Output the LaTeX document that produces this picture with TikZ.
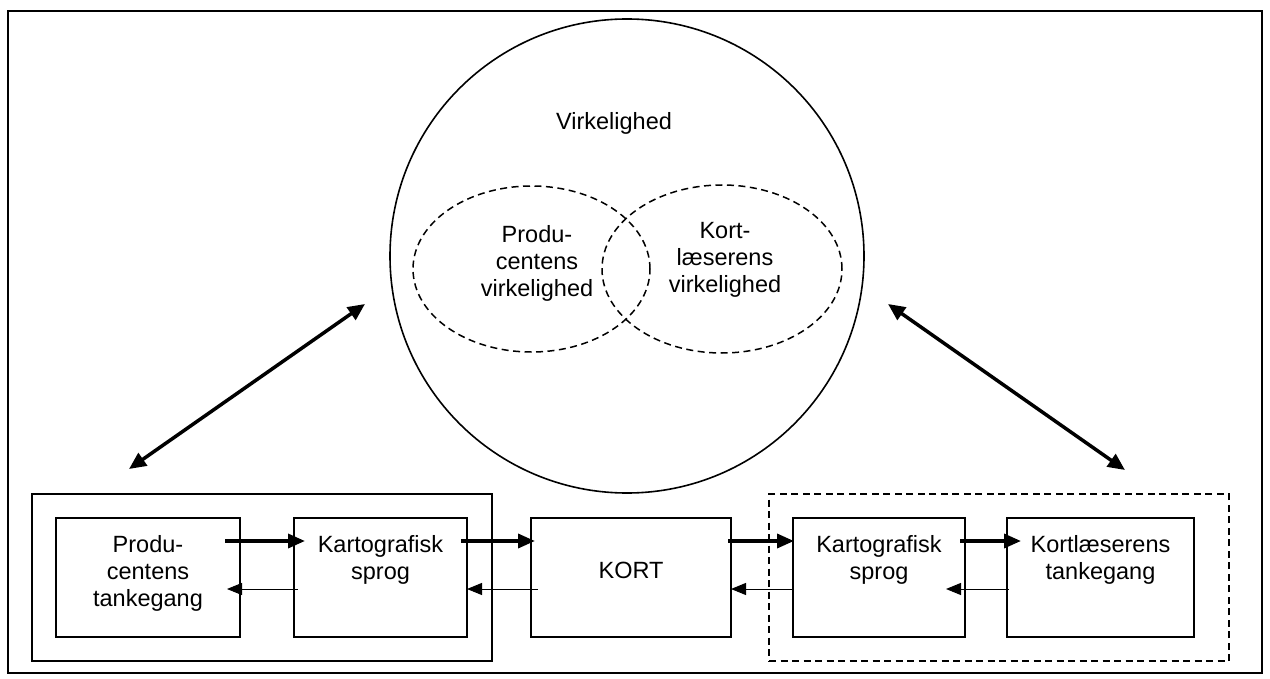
\documentclass[tikz,border=0pt]{standalone}
\usepackage{fontspec}
\setmainfont{Liberation Sans}
\usetikzlibrary{arrows.meta,shapes.geometric}
\begin{document}
\begin{tikzpicture}[x=1pt,y=-1pt,
  lbl/.style={font=\fontsize{23.5}{27.3}\selectfont, align=center, inner sep=0pt, anchor=north},
  stagebox/.style={draw, rectangle, line width=1.8pt, inner sep=0pt, outer sep=0pt},
  groupbox/.style={draw, rectangle, line width=1.6pt, inner sep=0pt, outer sep=0pt, fill=none},
  dashline/.style={line width=1.5pt, dash pattern=on 7pt off 4.5pt},
  thickarr/.style={line width=3.5pt, -{Triangle[length=17pt,width=14pt]}},
  thinarr/.style={line width=1pt, -{Triangle[length=15pt,width=12pt]}},
  bothway/.style={line width=3.5pt, {Triangle[length=17pt,width=15pt]}-{Triangle[length=17pt,width=15pt]}}]
\useasboundingbox (0,0) rectangle (1270,679);

% outer frame
\draw[line width=1.5pt] (8,11) rectangle (1262,673);

% reality circle with the two overlapping realities
\node[circle, draw, line width=1.6pt, inner sep=0pt, outer sep=0pt, minimum size=474pt] (world) at (627,256) {};
\node[lbl] (tworld) at (614,112) {Virkelighed};
\node[ellipse, draw, dashline, inner sep=0pt, outer sep=0pt, minimum width=237pt, minimum height=166pt] (ellP) at (531.5,269) {};
\node[ellipse, draw, dashline, inner sep=0pt, outer sep=0pt, minimum width=240pt, minimum height=168pt] (ellK) at (722,269) {};
\node[lbl] (tellP) at (537,225) {Produ-\\centens\\virkelighed};
\node[lbl] (tellK) at (725,222) {Kort-\\læserens\\virkelighed};

% groups
\node[groupbox, minimum width=460pt, minimum height=167pt] (prodgrp) at (262,577.5) {};
\node[groupbox, dashline, minimum width=460pt, minimum height=167pt] (readgrp) at (999,577.5) {};

% stages
\node[stagebox, minimum width=184pt, minimum height=119pt] (b1) at (148,577.5) {};
\node[stagebox, minimum width=173pt, minimum height=119pt] (b2) at (380.5,577.5) {};
\node[stagebox, minimum width=200pt, minimum height=119pt] (kort) at (631,577.5) {};
\node[stagebox, minimum width=172pt, minimum height=119pt] (b4) at (879,577.5) {};
\node[stagebox, minimum width=187pt, minimum height=119pt] (b5) at (1100.5,577.5) {};

\node[lbl] (t1) at (148,535) {Produ-\\centens\\tankegang};
\node[lbl] (t2) at (380.5,535) {Kartografisk\\sprog};
\node[lbl] (tkort) at (631,562) {KORT};
\node[lbl] (t4) at (879,535) {Kartografisk\\sprog};
\node[lbl] (t5) at (1100.5,535) {Kortlæserens\\tankegang};

% forward flow
\draw[thickarr] ([shift={(-15,-36.5)}]b1.east) -- ([shift={(11,-36.5)}]b2.west);
\draw[thickarr] ([shift={(-6,-36.5)}]b2.east) -- ([shift={(4,-36.5)}]kort.west);
\draw[thickarr] ([shift={(-3,-36.5)}]kort.east) -- ([shift={(1,-36.5)}]b4.west);
\draw[thickarr] ([shift={(-5,-36.5)}]b4.east) -- ([shift={(14,-36.5)}]b5.west);

% feedback flow
\draw[thinarr] ([shift={(4,11.5)}]b2.west) -- ([shift={(-13,11.5)}]b1.east);
\draw[thinarr] ([shift={(7,11.5)}]kort.west) -- ([shift={(0,11.5)}]b2.east);
\draw[thinarr] ([shift={(0,11.5)}]b4.west) -- ([shift={(0,11.5)}]kort.east);
\draw[thinarr] ([shift={(2,11.5)}]b5.west) -- ([shift={(-19,11.5)}]b4.east);

% links to reality
\draw[bothway] ([shift={(97,-25)}]prodgrp.north west) -- ([shift={(-25,48)}]world.west);
\draw[bothway] ([shift={(24,48)}]world.east) -- ([shift={(-104,-24)}]readgrp.north east);
\end{tikzpicture}
\end{document}
